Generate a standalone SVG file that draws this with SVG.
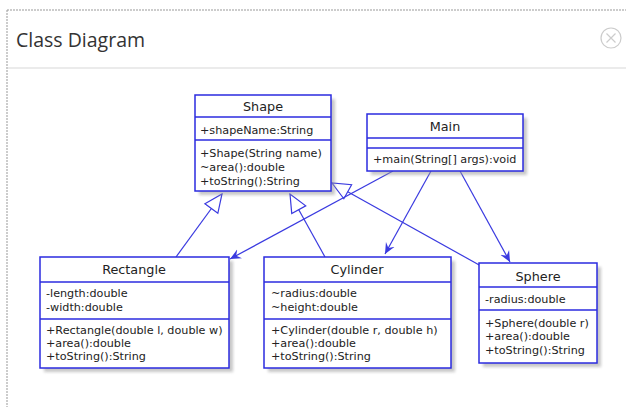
<svg xmlns="http://www.w3.org/2000/svg" width="626" height="407" viewBox="0 0 626 407">
<style>
.box{fill:#fff;stroke:#2b2bdf;stroke-width:1.5}
.sh{fill:#9a9a9a;opacity:0.55}
.div{stroke:#2b2bdf;stroke-width:1.5}
.t{font-family:"DejaVu Sans",sans-serif;font-size:11.2px;fill:#222}
.n{font-family:"DejaVu Sans",sans-serif;font-size:12.8px;fill:#222;text-anchor:middle}
.c{fill:none;stroke:#3a3ae0;stroke-width:1.2}
.tri{fill:#fff;stroke:#3a3ae0;stroke-width:1.2}
</style>
<defs>
<filter id="blur" x="-10%" y="-10%" width="130%" height="130%"><feGaussianBlur stdDeviation="1.5"/></filter>
<marker id="inh" viewBox="0 0 20 20" refX="19" refY="10" markerWidth="20" markerHeight="20" markerUnits="userSpaceOnUse" orient="auto">
<path d="M1,2 L19,10 L1,18 Z" class="tri"/>
</marker>
<marker id="arr" viewBox="0 0 12 12" refX="11" refY="6" markerWidth="12" markerHeight="12" markerUnits="userSpaceOnUse" orient="auto">
<path d="M0,1 L11,6 L0,11 L4,6 Z" fill="#3a3ae0"/>
</marker>
</defs>
<rect width="626" height="407" fill="#fff"/>
<g id="frame">
<path d="M7,10 H626" stroke="#999" stroke-dasharray="2,1" stroke-width="1"/>
<path d="M7,10 V407" stroke="#999" stroke-dasharray="2,1" stroke-width="1"/>
<path d="M8,68 H626" stroke="#e4e4e4" stroke-width="1.5"/>
<text x="16" y="47" font-family="Open Sans, sans-serif" font-size="19.5" fill="#333">Class Diagram</text>
<circle cx="611" cy="38" r="10" fill="none" stroke="#ccc" stroke-width="1.2"/>
<path d="M606.5,33.5 L615.5,42.5 M615.5,33.5 L606.5,42.5" stroke="#ccc" stroke-width="1.2"/>
</g>
<g id="connectors">
<path class="c" d="M176,257 L222,194" marker-end="url(#inh)"/>
<path class="c" d="M325,257 L290,194" marker-end="url(#inh)"/>
<path class="c" d="M481,266 L332,183" marker-end="url(#inh)"/>
<path class="c" d="M393,171 L230,259" marker-end="url(#arr)"/>
<path class="c" d="M431,171 L385,254" marker-end="url(#arr)"/>
<path class="c" d="M460,171 L510,262" marker-end="url(#arr)"/>
</g>
<g id="Shape">
<rect class="sh" x="199" y="99" width="136" height="96" filter="url(#blur)"/>
<rect class="box" x="195" y="95" width="136" height="96"/>
<line class="div" x1="195" y1="117" x2="331" y2="117"/>
<line class="div" x1="195" y1="140" x2="331" y2="140"/>
<text class="n" x="263" y="111">Shape</text>
<text class="t" x="200" y="134">+shapeName:String</text>
<text class="t" x="200" y="157">+Shape(String name)</text>
<text class="t" x="200" y="171">~area():double</text>
<text class="t" x="200" y="185">+toString():String</text>
</g>
<g id="Main">
<rect class="sh" x="371" y="118" width="156" height="57" filter="url(#blur)"/>
<rect class="box" x="367" y="114" width="156" height="57"/>
<line class="div" x1="367" y1="138" x2="523" y2="138"/>
<line class="div" x1="367" y1="148" x2="523" y2="148"/>
<text class="n" x="445" y="131">Main</text>
<text class="t" x="373" y="163">+main(String[] args):void</text>
</g>
<g id="Rectangle">
<rect class="sh" x="44" y="261" width="189" height="111" filter="url(#blur)"/>
<rect class="box" x="40" y="257" width="189" height="111"/>
<line class="div" x1="40" y1="282" x2="229" y2="282"/>
<line class="div" x1="40" y1="319" x2="229" y2="319"/>
<text class="n" x="134" y="274">Rectangle</text>
<text class="t" x="46" y="297">-length:double</text>
<text class="t" x="46" y="311">-width:double</text>
<text class="t" x="46" y="334">+Rectangle(double l, double w)</text>
<text class="t" x="46" y="347">+area():double</text>
<text class="t" x="46" y="360">+toString():String</text>
</g>
<g id="Cylinder">
<rect class="sh" x="268" y="261" width="187" height="111" filter="url(#blur)"/>
<rect class="box" x="264" y="257" width="187" height="111"/>
<line class="div" x1="264" y1="282" x2="451" y2="282"/>
<line class="div" x1="264" y1="319" x2="451" y2="319"/>
<text class="n" x="357" y="274">Cylinder</text>
<text class="t" x="271" y="297">~radius:double</text>
<text class="t" x="271" y="311">~height:double</text>
<text class="t" x="271" y="334">+Cylinder(double r, double h)</text>
<text class="t" x="271" y="347">+area():double</text>
<text class="t" x="271" y="360">+toString():String</text>
</g>
<g id="Sphere">
<rect class="sh" x="483" y="267" width="118" height="100" filter="url(#blur)"/>
<rect class="box" x="479" y="263" width="118" height="100"/>
<line class="div" x1="479" y1="287" x2="597" y2="287"/>
<line class="div" x1="479" y1="310" x2="597" y2="310"/>
<text class="n" x="538" y="281">Sphere</text>
<text class="t" x="485" y="303">-radius:double</text>
<text class="t" x="485" y="327">+Sphere(double r)</text>
<text class="t" x="485" y="340">+area():double</text>
<text class="t" x="485" y="354">+toString():String</text>
</g>
</svg>
